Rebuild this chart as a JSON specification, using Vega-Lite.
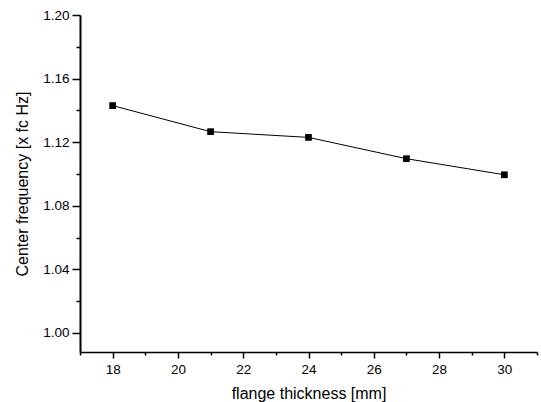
{
  "$schema": "https://vega.github.io/schema/vega-lite/v6.json",
  "width": 457,
  "height": 337,
  "autosize": {"type": "none"},
  "padding": {"left": 80, "top": 15, "right": 4, "bottom": 50},
  "background": "white",
  "config": {
    "view": {"stroke": null},
    "axis": {
      "labelFont": "Liberation Sans",
      "titleFont": "Liberation Sans",
      "labelFontSize": 13.5,
      "titleFontSize": 16,
      "titleFontWeight": "normal",
      "labelColor": "black",
      "titleColor": "black",
      "domainColor": "black",
      "tickColor": "black",
      "grid": false
    }
  },
  "data": {
    "values": [
      {"thickness": 18, "freq": 1.143},
      {"thickness": 21, "freq": 1.1266},
      {"thickness": 24, "freq": 1.123},
      {"thickness": 27, "freq": 1.1096},
      {"thickness": 30, "freq": 1.0995}
    ]
  },
  "encoding": {
    "x": {
      "field": "thickness",
      "type": "quantitative",
      "scale": {"domain": [17, 31], "nice": false, "zero": false},
      "axis": {
        "title": "flange thickness [mm]",
        "values": [17, 18, 19, 20, 21, 22, 23, 24, 25, 26, 27, 28, 29, 30, 31],
        "labelExpr": "datum.value % 2 === 0 ? datum.label : ''",
        "tickSize": {"condition": {"test": "datum.value % 2 === 0", "value": 6}, "value": 3},
        "domainWidth": 1.5,
        "tickWidth": 1.5,
        "labelPadding": 4,
        "titlePadding": 10
      }
    },
    "y": {
      "field": "freq",
      "type": "quantitative",
      "scale": {"domain": [0.988, 1.2], "nice": false, "zero": false},
      "axis": {
        "title": "Center frequency [x fc Hz]",
        "values": [1.0, 1.02, 1.04, 1.06, 1.08, 1.1, 1.12, 1.14, 1.16, 1.18, 1.2],
        "format": ".2f",
        "labelExpr": "round(datum.value * 100) % 4 === 0 ? datum.label : ''",
        "tickSize": {"condition": {"test": "round(datum.value * 100) % 4 === 0", "value": 8}, "value": 4},
        "domainWidth": 2,
        "tickWidth": 1.5,
        "labelPadding": 3,
        "titlePadding": 12
      }
    }
  },
  "layer": [
    {"mark": {"type": "line", "color": "black", "strokeWidth": 1}},
    {"mark": {"type": "point", "shape": "square", "filled": true, "color": "black", "opacity": 1, "size": 45}}
  ]
}
